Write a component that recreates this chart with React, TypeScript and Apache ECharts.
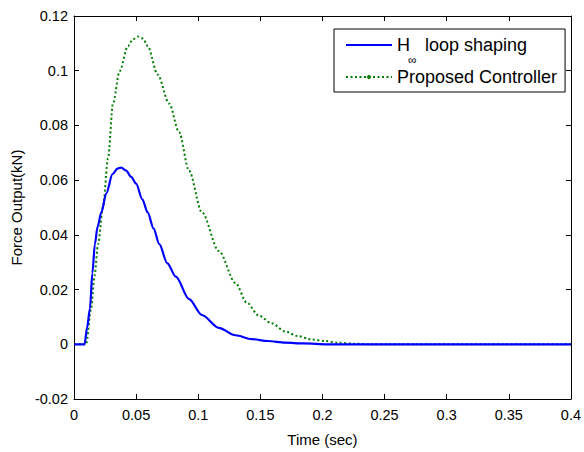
import React, { useEffect, useRef } from "react";
import * as echarts from "echarts";

const seriesNames = ["H∞ loop shaping", "Proposed Controller"];

const hinfTime = [0, 0.0085, 0.0105, 0.0128, 0.0148, 0.0168, 0.019, 0.022, 0.026, 0.031, 0.035, 0.038, 0.042, 0.046, 0.05, 0.055, 0.0593, 0.064, 0.0687, 0.075, 0.082, 0.0926, 0.103, 0.1166, 0.13, 0.143, 0.156, 0.17, 0.185, 0.204, 0.4];
const hinfForce = [0, 0, 0.006, 0.013, 0.026, 0.0366, 0.043, 0.0482, 0.0552, 0.0622, 0.0642, 0.0646, 0.0635, 0.0612, 0.0587, 0.053, 0.0482, 0.0424, 0.0366, 0.0297, 0.0247, 0.0165, 0.0107, 0.006, 0.0033, 0.0019, 0.0012, 0.0006, 0.0003, 0, 0];

const propTime = [0, 0.0098, 0.0138, 0.0165, 0.0194, 0.0234, 0.0274, 0.0314, 0.0367, 0.0434, 0.0475, 0.0514, 0.0555, 0.0593, 0.0673, 0.0766, 0.0846, 0.0926, 0.103, 0.1166, 0.13, 0.139, 0.1485, 0.159, 0.17, 0.18, 0.191, 0.202, 0.212, 0.226, 0.24, 0.4];
const propForce = [0, 0, 0.013, 0.025, 0.0366, 0.0505, 0.068, 0.088, 0.0998, 0.109, 0.1115, 0.1125, 0.1118, 0.109, 0.0986, 0.088, 0.0775, 0.0634, 0.0482, 0.0341, 0.0224, 0.0153, 0.0106, 0.0077, 0.0047, 0.003, 0.0018, 0.0012, 0.0006, 0.0002, 0, 0];

const xMin = 0, xMax = 0.4, xStep = 0.05;
const yMin = -0.02, yMax = 0.12, yStep = 0.02;

const FONT = "'Liberation Sans', Arial, sans-serif";
const fmt = (v: number) => String(parseFloat(v.toFixed(4)));

export default function App() {
  const ref = useRef<HTMLDivElement>(null);
  useEffect(() => {
    if (!ref.current) return;
    const chart = echarts.init(ref.current, undefined, { renderer: "svg" });
    const mkLine = () => ({ show: true, onZero: false, lineStyle: { color: "#000", width: 1 } });
    const mkTick = () => ({ show: true, inside: true, length: 5, lineStyle: { color: "#000", width: 1 } });
    chart.setOption({
      animation: false,
      backgroundColor: "#fff",
      textStyle: { fontFamily: FONT, color: "#000" },
      grid: { left: 74, right: 8, top: 16, bottom: 40 },
      legend: {
        orient: "vertical",
        left: 334,
        top: 29,
        padding: [7, 8, 6, 11],
        itemGap: 14,
        itemWidth: 46,
        itemHeight: 5,
        backgroundColor: "#fff",
        borderColor: "#000",
        borderWidth: 1,
        borderRadius: 0,
        data: [
          { name: seriesNames[0], itemStyle: { opacity: 0 } },
          { name: seriesNames[1] },
        ],
        formatter: (name: string) =>
          name.startsWith("H")
            ? "{a|H}{g| }{a|loop shaping}"
            : "{a|" + name + "}",
        textStyle: {
          fontFamily: FONT,
          color: "#000",
          rich: {
            a: { fontFamily: FONT, fontSize: 18, color: "#000" },
            g: { fontFamily: FONT, fontSize: 18, width: 15 },
          },
        },
      },
      graphic: [
        {
          type: "text",
          left: 408,
          top: 54,
          z: 100,
          style: { text: "∞", fontFamily: FONT, fontSize: 12, fill: "#000" },
        },
      ],
      xAxis: [
        {
          type: "value",
          min: xMin,
          max: xMax,
          interval: xStep,
          position: "bottom",
          name: "Time (sec)",
          nameLocation: "middle",
          nameGap: 33,
          nameTextStyle: { fontFamily: FONT, fontSize: 15, color: "#000" },
          axisLine: mkLine(),
          axisTick: mkTick(),
          axisLabel: { fontFamily: FONT, fontSize: 14.5, color: "#000", margin: 8, formatter: fmt, showMinLabel: true, showMaxLabel: true, hideOverlap: false },
          splitLine: { show: false },
        },
        {
          type: "value",
          min: xMin,
          max: xMax,
          interval: xStep,
          position: "top",
          axisLine: mkLine(),
          axisTick: mkTick(),
          axisLabel: { show: false },
          splitLine: { show: false },
        },
      ],
      yAxis: [
        {
          type: "value",
          min: yMin,
          max: yMax,
          interval: yStep,
          position: "left",
          name: "Force Output(kN)",
          nameLocation: "middle",
          nameGap: 50,
          nameTextStyle: { fontFamily: FONT, fontSize: 15, color: "#000" },
          axisLine: mkLine(),
          axisTick: mkTick(),
          axisLabel: { fontFamily: FONT, fontSize: 14.5, color: "#000", margin: 6, formatter: fmt },
          splitLine: { show: false },
        },
        {
          type: "value",
          min: yMin,
          max: yMax,
          interval: yStep,
          position: "right",
          axisLine: mkLine(),
          axisTick: mkTick(),
          axisLabel: { show: false },
          splitLine: { show: false },
        },
      ],
      series: [
        {
          name: seriesNames[0],
          type: "line",
          xAxisIndex: 0,
          yAxisIndex: 0,
          data: hinfTime.map((t, i) => [t, hinfForce[i]]),
          symbol: "none",
          smooth: 0.3,
          smoothMonotone: "x",
          color: "#0000ff",
          lineStyle: { color: "#0000ff", width: 2.2, type: "solid" },
          z: 3,
        },
        {
          name: seriesNames[1],
          type: "line",
          xAxisIndex: 0,
          yAxisIndex: 0,
          data: propTime.map((t, i) => [t, propForce[i]]),
          symbol: "circle",
          symbolSize: 4,
          showSymbol: false,
          smooth: 0.3,
          smoothMonotone: "x",
          color: "#007f00",
          itemStyle: { color: "#007f00" },
          lineStyle: { color: "#007f00", width: 2, type: [2, 2.5] },
          z: 2,
        },
      ],
    });
    return () => chart.dispose();
  }, []);
  return (
    <div
      ref={ref}
      style={{ position: "fixed", left: 0, top: 0, width: 584, height: 452, background: "#fff" }}
    />
  );
}
